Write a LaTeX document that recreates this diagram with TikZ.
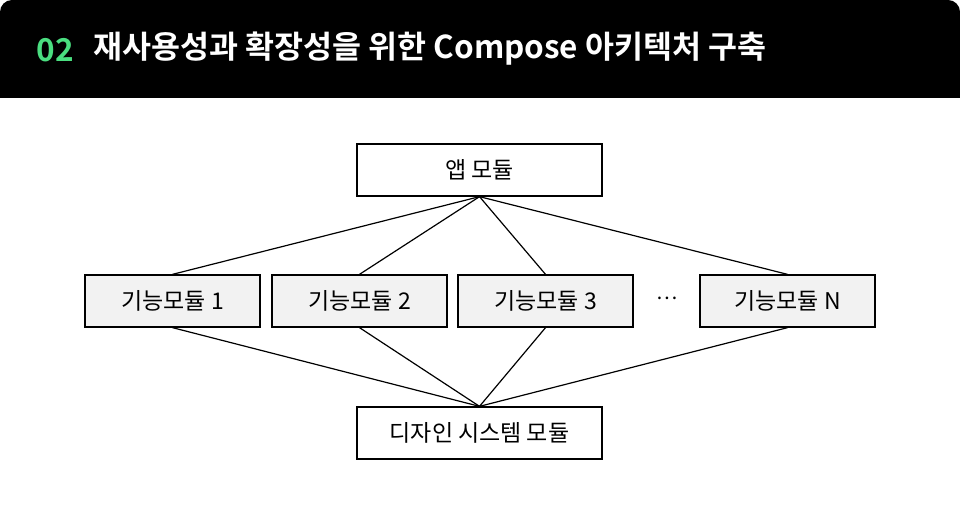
\documentclass[tikz,border=0pt]{standalone}
\usepackage{fontspec}
\setmainfont{Noto Sans CJK KR}
\newfontfamily\krbold{Noto Sans CJK KR Bold}
\definecolor{accent}{HTML}{4ADE80}
\definecolor{boxgray}{HTML}{F2F2F2}
\begin{document}
\begin{tikzpicture}[x=1pt,y=-1pt,
  box/.style={draw=black,line width=1.3pt,minimum width=245pt,minimum height=52pt,inner sep=0pt,font=\fontsize{23}{26}\selectfont},
  fbox/.style={box,fill=boxgray,minimum width=175pt},
  link/.style={line width=1.2pt}]
\useasboundingbox (0,0) rectangle (960,505);
\fill[white] (0,0) rectangle (960,505);
\fill[black,rounded corners=12pt] (0,0) rectangle (960,120);
\fill[white] (0,98) rectangle (960,125);
\node[anchor=west,font=\krbold\fontsize{31.5}{36}\selectfont,text=accent] (num) at (33,50) {02};
\node[anchor=west,font=\krbold\fontsize{31.5}{36}\selectfont,text=white] (title) at (90,49) {재사용성과 확장성을 위한 Compose 아키텍처 구축};
\node[box,fill=white] (app) at (479.5,170) {앱 모듈};
\node[fbox] (f1) at (172.5,301) {기능모듈 1};
\node[fbox] (f2) at (359.5,301) {기능모듈 2};
\node[fbox] (f3) at (545.5,301) {기능모듈 3};
\node[fbox] (fn) at (787.5,301) {기능모듈 N};
\node[font=\fontsize{20}{24}\selectfont] (dots) at (667,298) {…};
\node[box,fill=white] (ds) at (479.5,433) {디자인 시스템 모듈};
\foreach \f in {f1,f2,f3,fn}{
  \draw[link] (app.south) -- (\f.north);
  \draw[link] (\f.south) -- (ds.north);
}
\end{tikzpicture}
\end{document}
